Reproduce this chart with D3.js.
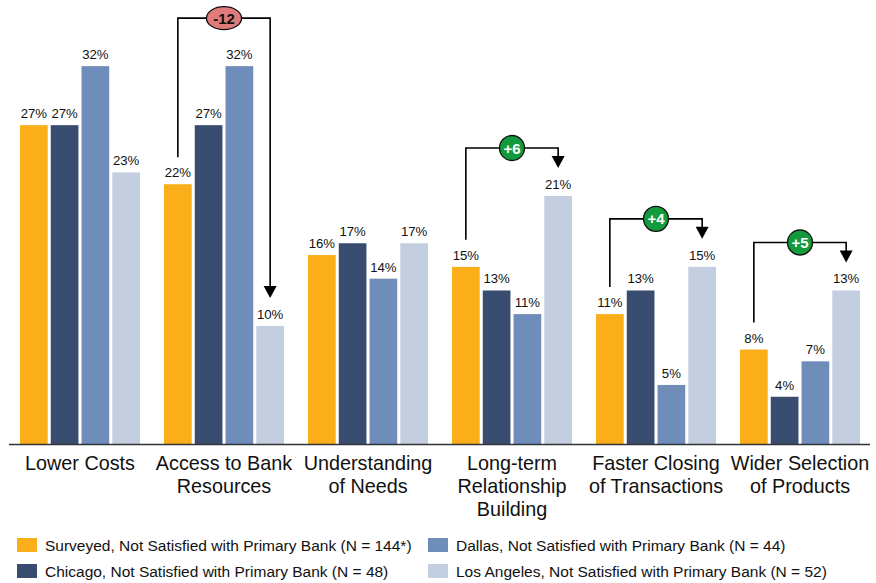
<!DOCTYPE html>
<html>
<head>
<meta charset="utf-8">
<script src="https://cdn.jsdelivr.net/npm/d3@7"></script>
<style>
  body { margin: 0; background: #fff; }
  svg { display: block; font-family: "Liberation Sans", Arial, sans-serif; }
</style>
</head>
<body>
<svg id="chart" width="876" height="583"></svg>
<script>
// DATA
var categories = [
  ["Lower Costs"],
  ["Access to Bank", "Resources"],
  ["Understanding", "of Needs"],
  ["Long-term", "Relationship", "Building"],
  ["Faster Closing", "of Transactions"],
  ["Wider Selection", "of Products"]
];
var seriesNames = [
  "Surveyed, Not Satisfied with Primary Bank (N = 144*)",
  "Chicago, Not Satisfied with Primary Bank (N = 48)",
  "Dallas, Not Satisfied with Primary Bank (N = 44)",
  "Los Angeles, Not Satisfied with Primary Bank (N = 52)"
];
var surveyed = [27, 22, 16, 15, 11, 8];
var chicago  = [27, 27, 17, 13, 13, 4];
var dallas   = [32, 32, 14, 11, 5, 7];
var losAngeles = [23, 10, 17, 21, 15, 13];
// gap callouts: group index, label, positive?
var callouts = [
  { group: 1, label: "-12", up: false },
  { group: 3, label: "+6", up: true },
  { group: 4, label: "+4", up: true },
  { group: 5, label: "+5", up: true }
];

var colors = ["#F9AE1A", "#374C6E", "#6E8EB9", "#C3CEE0"];
var series = [surveyed, chicago, dallas, losAngeles];

var svg = d3.select("#chart");
var baseY = 444;

var x0 = d3.scaleBand().domain(d3.range(categories.length)).range([8, 872]).paddingInner(0.1667).paddingOuter(0.0833);
var x1 = d3.scaleBand().domain(d3.range(series.length)).range([0, x0.bandwidth()]).paddingInner(0.1).paddingOuter(0);
var y = d3.scaleLinear().domain([0, 37.6]).range([baseY, 0]);

// BARS
var groups = svg.selectAll("g.grp")
  .data(categories)
  .enter().append("g")
  .attr("class", "grp")
  .attr("transform", function (d, i) { return "translate(" + x0(i) + ",0)"; });

groups.each(function (c, gi) {
  var g = d3.select(this);
  series.forEach(function (s, si) {
    g.append("rect")
      .attr("x", x1(si))
      .attr("y", y(s[gi]))
      .attr("width", x1.bandwidth())
      .attr("height", baseY - y(s[gi]))
      .attr("fill", colors[si]);
    g.append("text")
      .attr("x", x1(si) + x1.bandwidth() / 2)
      .attr("y", y(s[gi]) - 7)
      .attr("text-anchor", "middle")
      .attr("font-size", 13.2)
      .attr("fill", "#111")
      .text(s[gi] + "%");
  });
  // category label
  var t = g.append("text")
    .attr("x", x0.bandwidth() / 2)
    .attr("y", 470)
    .attr("text-anchor", "middle")
    .attr("font-size", 19.8)
    .attr("fill", "#111");
  c.forEach(function (line, li) {
    t.append("tspan").attr("x", x0.bandwidth() / 2).attr("dy", li ? 23 : 0).text(line);
  });
});

// baseline
svg.append("line")
  .attr("x1", 9).attr("x2", 870)
  .attr("y1", baseY + 0.5).attr("y2", baseY + 0.5)
  .attr("stroke", "#333").attr("stroke-width", 1.5);

// CALLOUTS
callouts.forEach(function (c) {
  var gi = c.group;
  var xa = x0(gi) + x1(0) + x1.bandwidth() / 2;
  var xb = x0(gi) + x1(3) + x1.bandwidth() / 2;
  var top = y(d3.max(series, function (s) { return s[gi]; })) - 48;
  var ya = y(surveyed[gi]) - 27;
  var yb = y(losAngeles[gi]) - 28;
  svg.append("path")
    .attr("d", "M" + xa + "," + ya + "V" + top + "H" + xb + "V" + (yb - 11))
    .attr("fill", "none").attr("stroke", "#000").attr("stroke-width", 1.6);
  svg.append("path")
    .attr("d", "M" + (xb - 6.5) + "," + (yb - 12) + "L" + (xb + 6.5) + "," + (yb - 12) + "L" + xb + "," + yb + "Z")
    .attr("fill", "#000");
  var cx = (xa + xb) / 2;
  if (c.up) {
    svg.append("circle").attr("cx", cx).attr("cy", top).attr("r", 12.5)
      .attr("fill", "#129A3C").attr("stroke", "#111").attr("stroke-width", 1.3);
  } else {
    svg.append("ellipse").attr("cx", cx).attr("cy", top).attr("rx", 17.5).attr("ry", 11.5)
      .attr("fill", "#E07B7B").attr("stroke", "#111").attr("stroke-width", 1.3);
  }
  svg.append("text")
    .attr("x", cx).attr("y", top + 5.5)
    .attr("text-anchor", "middle")
    .attr("font-size", 15).attr("font-weight", "bold")
    .attr("fill", c.up ? "#fff" : "#111")
    .text(c.label);
});

// LEGEND
var legendPos = [[17, 545], [17, 571], [428, 545], [428, 571]];
seriesNames.forEach(function (name, i) {
  var p = legendPos[i];
  svg.append("rect")
    .attr("x", p[0]).attr("y", p[1] - 7)
    .attr("width", 20).attr("height", 14)
    .attr("fill", colors[i]);
  svg.append("text")
    .attr("x", p[0] + 28).attr("y", p[1] + 5.5)
    .attr("font-size", 15.5).attr("fill", "#111")
    .text(name);
});
</script>
</body>
</html>
